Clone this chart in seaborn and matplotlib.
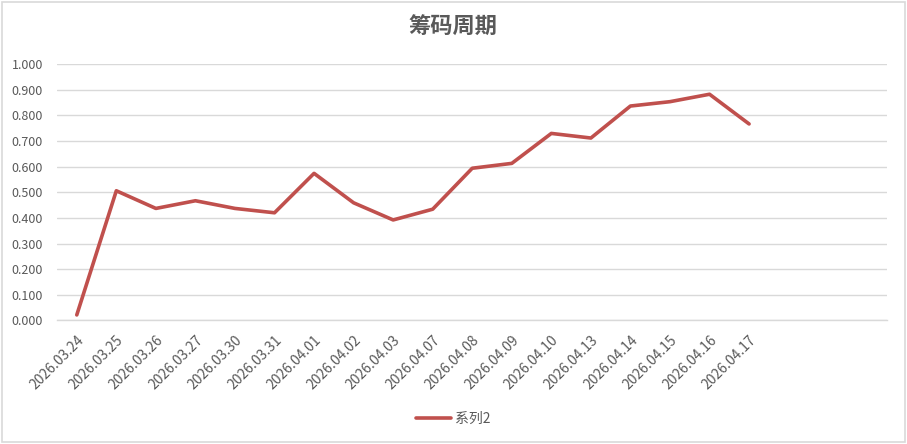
"""
Chip-cycle line chart (筹码周期), Excel-style look.
"""
import matplotlib
matplotlib.use("Agg")

import matplotlib.pyplot as plt
import pandas as pd
import seaborn as sns
from matplotlib.patches import Rectangle

# ---------------------------------------------------------------
# Data
# ---------------------------------------------------------------
dates = [
    "2026.03.24", "2026.03.25", "2026.03.26", "2026.03.27", "2026.03.30",
    "2026.03.31", "2026.04.01", "2026.04.02", "2026.04.03", "2026.04.07",
    "2026.04.08", "2026.04.09", "2026.04.10", "2026.04.13", "2026.04.14",
    "2026.04.15", "2026.04.16", "2026.04.17",
]
series2 = [
    0.021, 0.506, 0.437, 0.467, 0.437,
    0.420, 0.574, 0.459, 0.392, 0.434,
    0.594, 0.613, 0.730, 0.712, 0.837,
    0.854, 0.883, 0.767,
]
y_ticks = [0.0, 0.1, 0.2, 0.3, 0.4, 0.5, 0.6, 0.7, 0.8, 0.9, 1.0]
title = "筹码周期"
series_name = "系列2"

# category slots on the axis (the last ones are left empty)
N_SLOTS = 21

_LINE = "#C0504D"
_TEXT = "#595959"
_GRID = "#D9D9D9"

sns.set_theme(style="white")
plt.rcParams["font.family"] = ["Noto Sans CJK SC", "DejaVu Sans"]

df = pd.DataFrame({"date": dates, "value": series2, "series": series_name})

fig = plt.figure(figsize=(9.07, 4.44), dpi=100)
fig.patch.set_facecolor("white")
ax = fig.add_axes([57 / 907, 1 - 320.3 / 444, 830.5 / 907, 256 / 444])

sns.lineplot(
    data=df, x="date", y="value", hue="series",
    palette=[_LINE], linewidth=2.6, ax=ax, sort=False,
)

ax.set_xlim(-0.5, N_SLOTS - 0.5)
ax.set_ylim(0, 1.0)
ax.set_yticks(y_ticks)
ax.set_yticklabels([f"{v:.3f}" for v in y_ticks])
ax.set_xticks(range(len(dates)))
ax.set_xticklabels(dates, rotation=45, ha="right", rotation_mode="anchor")

ax.grid(True, axis="y", color=_GRID, linewidth=1)
ax.set_axisbelow(True)
for side in ("top", "right", "left"):
    ax.spines[side].set_visible(False)
ax.spines["bottom"].set_color(_GRID)
ax.spines["bottom"].set_linewidth(1)
ax.tick_params(axis="y", colors=_TEXT, labelsize=9, length=0, pad=10)
ax.tick_params(axis="x", colors=_TEXT, labelsize=10, length=0, pad=9)
for lbl in ax.get_xticklabels() + ax.get_yticklabels():
    lbl.set_color(_TEXT)
ax.set_xlabel("")
ax.set_ylabel("")

ax.legend(
    loc="center", bbox_to_anchor=(453 / 907, 1 - 419 / 444),
    bbox_transform=fig.transFigure, frameon=False,
    fontsize=10, labelcolor=_TEXT, handlelength=2.5, handletextpad=0.3,
)

fig.text(453 / 907, 1 - 27 / 444, title, ha="center", va="center",
         fontsize=16, fontweight="bold", color=_TEXT)

# chart border
fig.patches.append(Rectangle(
    (2 / 907, 2 / 444), 903 / 907, 440 / 444, transform=fig.transFigure,
    fill=False, edgecolor=_GRID, linewidth=1.2,
))

fig.savefig("out.png", dpi=100, facecolor=fig.get_facecolor())
plt.close(fig)
